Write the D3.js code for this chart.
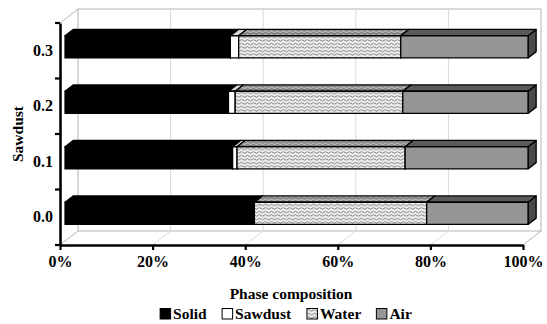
<!DOCTYPE html>
<html>
<head>
<meta charset="utf-8">
<script src="https://cdn.jsdelivr.net/npm/d3@7/dist/d3.min.js"></script>
<style>
  html, body { margin: 0; padding: 0; background: #fff; }
  svg { display: block; }
  text { font-family: "Liberation Serif", "Times New Roman", serif; font-weight: bold; }
</style>
</head>
<body>
<svg id="chart" width="547" height="324"></svg>
<script>
// Phase composition of the mixes for each sawdust content (percent of volume)
const categories = ["0.0", "0.1", "0.2", "0.3"];
const solid   = [40.9, 36.2, 35.3, 35.7];
const sawdust = [0.0, 0.95, 1.45, 1.8];
const water   = [37.2, 36.3, 36.2, 35.0];
const air     = [21.9, 26.55, 27.05, 27.5];
const seriesNames = ["Solid", "Sawdust", "Water", "Air"];
const xTicks = [0, 20, 40, 60, 80, 100];

const svg = d3.select("#chart");

// Pattern fills for the water series
const defs = svg.append("defs");
function wavePattern(id, bg, ink) {
  const p = defs.append("pattern").attr("id", id)
    .attr("patternUnits", "userSpaceOnUse").attr("width", 6).attr("height", 3.5);
  p.append("rect").attr("width", 6).attr("height", 3.5).attr("fill", bg);
  p.append("path").attr("d", "M0,2 Q1.5,0.4 3,2 T6,2")
    .attr("fill", "none").attr("stroke", ink).attr("stroke-width", 0.8);
}
wavePattern("wave", "#eeeeee", "#5e5e5e");
wavePattern("waveTop", "#b0b0b0", "#3c3c3c");

const styles = {
  Solid:   { front: "#000", top: "#000", side: "#000" },
  Sawdust: { front: "#fff", top: "#d6d6d6", side: "#bdbdbd" },
  Water:   { front: "url(#wave)", top: "url(#waveTop)", side: "url(#waveTop)" },
  Air:     { front: "#969696", top: "#5a5a5a", side: "#4a4a4a" }
};

// Plot geometry: front plane plus an oblique depth offset
const x = d3.scaleLinear().domain([0, 100]).range([60, 523]);
const yOrder = categories.slice().reverse();
const yBand = d3.scaleBand().domain(yOrder).range([23, 245]);
const y = d3.scaleBand().domain(yOrder).range([23, 245]).paddingInner(0.6).paddingOuter(0.3);
const depth = { dx: 18, dy: -14 };
const t0 = 0.28, t1 = 0.73;

const [yTopPlane, yBotPlane] = yBand.range();

// Back wall, floor and gridlines
const walls = svg.append("g");
walls.append("rect")
  .attr("x", x(0) + depth.dx).attr("y", yTopPlane + depth.dy)
  .attr("width", x(100) - x(0)).attr("height", yBotPlane - yTopPlane)
  .attr("fill", "#fff").attr("stroke", "#b3b3b3").attr("stroke-width", 1);
xTicks.filter(v => v > 0 && v < 100).forEach(v => {
  walls.append("line")
    .attr("x1", x(v) + depth.dx).attr("x2", x(v) + depth.dx)
    .attr("y1", yTopPlane + depth.dy).attr("y2", yBotPlane + depth.dy)
    .attr("stroke", "#d9d9d9");
});
xTicks.forEach(v => {
  walls.append("line")
    .attr("x1", x(v)).attr("y1", yBotPlane)
    .attr("x2", x(v) + depth.dx).attr("y2", yBotPlane + depth.dy)
    .attr("stroke", v === 0 || v === 100 ? "#b3b3b3" : "#d9d9d9");
});
walls.append("line")
  .attr("x1", x(0)).attr("y1", yTopPlane)
  .attr("x2", x(0) + depth.dx).attr("y2", yTopPlane + depth.dy)
  .attr("stroke", "#b3b3b3");

// Stacked 3D bars
const values = { Solid: solid, Sawdust: sawdust, Water: water, Air: air };
const bx = depth.dx * (t1 - t0), by = depth.dy * (t1 - t0);
const bars = svg.append("g");
categories.forEach((c, i) => {
  const yTop = y(c) + depth.dy * t0;
  const h = y.bandwidth();
  const off = depth.dx * t0;
  let cum = 0;
  seriesNames.forEach(name => {
    const v = values[name][i];
    if (v <= 0) return;
    const x0 = x(cum) + off, x1 = x(cum + v) + off;
    cum += v;
    const st = styles[name];
    const g = bars.append("g").attr("stroke", "#000").attr("stroke-width", 1.3)
      .attr("stroke-linejoin", "round");
    g.append("polygon").attr("fill", st.side)
      .attr("points", [[x1, yTop], [x1 + bx, yTop + by], [x1 + bx, yTop + h + by], [x1, yTop + h]].join(" "));
    g.append("polygon").attr("fill", st.top)
      .attr("points", [[x0, yTop], [x0 + bx, yTop + by], [x1 + bx, yTop + by], [x1, yTop]].join(" "));
    g.append("rect").attr("fill", st.front)
      .attr("x", x0).attr("y", yTop).attr("width", x1 - x0).attr("height", h);
  });
});

// Axes
const xAxis = svg.append("g").attr("transform", `translate(0,${yBotPlane})`)
  .call(d3.axisBottom(x).tickValues(xTicks).tickFormat(d => d + "%")
    .tickSize(5).tickSizeOuter(0).tickPadding(6));
xAxis.select(".domain").attr("stroke", "#000").attr("stroke-width", 2.6);
xAxis.selectAll(".tick line").attr("stroke", "#000").attr("stroke-width", 2.2);
xAxis.selectAll("text").attr("font-size", 16).attr("fill", "#000")
  .style("font-family", "'Liberation Serif', serif").style("font-weight", "bold");

const yAxis = svg.append("g").attr("transform", `translate(${x(0)},0)`)
  .call(d3.axisLeft(yBand).tickSize(0).tickSizeOuter(0).tickPadding(7));
yAxis.select(".domain").attr("stroke", "#000").attr("stroke-width", 2.6);
yAxis.selectAll("text").attr("font-size", 16).attr("fill", "#000")
  .style("font-family", "'Liberation Serif', serif").style("font-weight", "bold");
const bounds = yOrder.map(c => yBand(c)).concat([yBotPlane]);
bounds.forEach(b => {
  yAxis.append("line").attr("x1", -5).attr("x2", 0).attr("y1", b).attr("y2", b)
    .attr("stroke", "#000").attr("stroke-width", 2.2);
});

// Axis titles
svg.append("text").attr("transform", `translate(23,${(yTopPlane + yBotPlane) / 2}) rotate(-90)`)
  .attr("text-anchor", "middle").attr("font-size", 15.5).text("Sawdust");
svg.append("text").attr("x", 291).attr("y", 299)
  .attr("text-anchor", "middle").attr("font-size", 15.5).text("Phase composition");

// Legend
const legend = svg.append("g").attr("transform", "translate(0,319)");
const items = legend.selectAll("g").data(seriesNames).join("g");
items.append("rect").attr("x", 0).attr("y", -10.5).attr("width", 10.5).attr("height", 10.5)
  .attr("fill", d => styles[d].front).attr("stroke", "#000").attr("stroke-width", 1);
items.append("text").attr("x", 13).attr("y", 0).attr("font-size", 15.5).text(d => d);
const gap = 15;
const widths = [];
items.each(function () { widths.push(this.getBBox().width); });
const total = d3.sum(widths) + gap * (widths.length - 1);
let cx = 286 - total / 2;
items.attr("transform", (d, i) => { const t = `translate(${cx},0)`; cx += widths[i] + gap; return t; });
</script>
</body>
</html>
